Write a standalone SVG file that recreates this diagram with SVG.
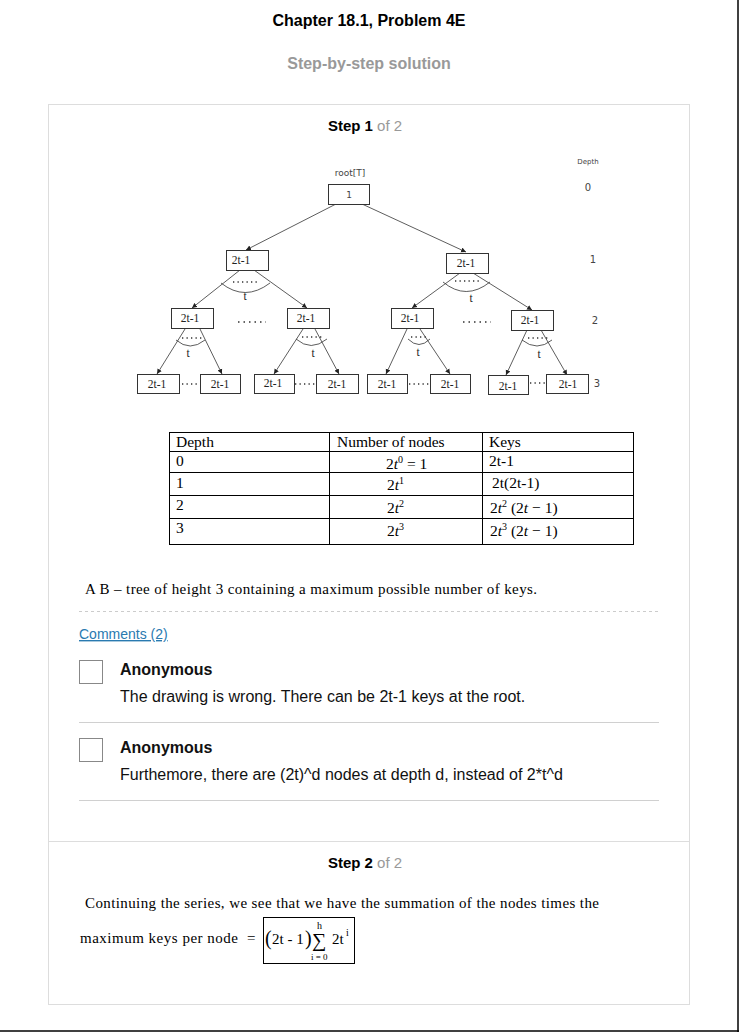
<svg xmlns="http://www.w3.org/2000/svg" width="739" height="1032" viewBox="0 0 739 1032">
<defs>
<marker id="ah" markerWidth="6" markerHeight="6" refX="5" refY="3" orient="auto" markerUnits="userSpaceOnUse">
<path d="M0,0.5 L5,3 L0,5.5 z" fill="#222"/>
</marker>
<style>
.sans{font-family:"Liberation Sans",Arial,sans-serif}
.box{fill:#fff;stroke:#333;stroke-width:1}
.lbl{font-family:"Liberation Serif","Times New Roman",serif;font-size:11.5px;fill:#222;text-anchor:middle}
.dep{font-family:"DejaVu Sans","Liberation Sans",sans-serif;fill:#444;text-anchor:middle}
.edge{stroke:#333;stroke-width:0.8;fill:none;marker-end:url(#ah)}
.arc{stroke:#333;stroke-width:0.8;fill:none}
.dots{stroke:#333;stroke-width:1.3;stroke-dasharray:1.3 3.2;fill:none}
.cell{fill:none;stroke:#000;stroke-width:1}
.tt{font-family:"Liberation Serif","Times New Roman",serif;fill:#000}
.body{font-family:"Liberation Sans",Arial,sans-serif;fill:#111}
.div{stroke:#d0d0d0;stroke-width:1}
</style>
</defs>
<rect x="0" y="0" width="739" height="1032" fill="#fff"/>
<line x1="738" y1="0" x2="738" y2="1032" stroke="#000" stroke-width="1.5"/>
<line x1="0" y1="1031" x2="739" y2="1031" stroke="#000" stroke-width="1.5"/>

<g id="header">
<text x="369" y="26" class="sans" font-size="16" font-weight="bold" text-anchor="middle" fill="#000">Chapter 18.1, Problem 4E</text>
<text x="369" y="69" class="sans" font-size="16" font-weight="bold" text-anchor="middle" fill="#999">Step-by-step solution</text>
</g>

<g id="card">
<rect x="48.5" y="104.5" width="641" height="900" fill="none" stroke="#ddd"/>
<line x1="48.5" y1="841.5" x2="689.5" y2="841.5" stroke="#ddd"/>
<text x="365" y="131" class="sans" font-size="15" text-anchor="middle"><tspan font-weight="bold" fill="#000">Step 1</tspan><tspan fill="#999"> of 2</tspan></text>
<text x="365" y="868" class="sans" font-size="15" text-anchor="middle"><tspan font-weight="bold" fill="#000">Step 2</tspan><tspan fill="#999"> of 2</tspan></text>
</g>

<g id="depth-labels">
<text x="588" y="164" class="dep" style="font-size:7px">Depth</text>
<text x="588" y="191" class="dep" style="font-size:10px">0</text>
<text x="593" y="263" class="dep" style="font-size:10px">1</text>
<text x="595" y="324" class="dep" style="font-size:10px">2</text>
<text x="597" y="387" class="dep" style="font-size:10px">3</text>
</g>

<g id="connectors">
<line class="edge" x1="336" y1="204" x2="246" y2="250"/>
<line class="edge" x1="362" y1="204" x2="466" y2="252"/>
<line class="edge" x1="240" y1="270" x2="192" y2="308"/>
<line class="edge" x1="254" y1="270" x2="307" y2="308"/>
<line class="edge" x1="460" y1="273" x2="412" y2="308"/>
<line class="edge" x1="473" y1="273" x2="532" y2="310"/>
<line class="edge" x1="185" y1="329" x2="157" y2="374"/>
<line class="edge" x1="200" y1="329" x2="222" y2="374"/>
<line class="edge" x1="303" y1="329" x2="274" y2="374"/>
<line class="edge" x1="315" y1="329" x2="339" y2="374"/>
<line class="edge" x1="407" y1="329" x2="386" y2="374"/>
<line class="edge" x1="420" y1="329" x2="450" y2="374"/>
<line class="edge" x1="527" y1="330" x2="506" y2="375"/>
<line class="edge" x1="541" y1="330" x2="567" y2="375"/>
<path class="arc" d="M221,283 Q245,302 270,283"/>
<path class="arc" d="M443,282 Q466,301 490,282"/>
<path class="arc" d="M176,340 Q190,352 205,340"/>
<path class="arc" d="M296,339 Q311,352 327,339"/>
<path class="arc" d="M408,339 Q419,350 430,339"/>
<path class="arc" d="M522,340 Q537,352 552,340"/>
<line class="dots" x1="233" y1="282" x2="259" y2="282"/>
<line class="dots" x1="455" y1="281" x2="481" y2="281"/>
<line class="dots" x1="182" y1="338" x2="202" y2="338"/>
<line class="dots" x1="302" y1="337" x2="322" y2="337"/>
<line class="dots" x1="411" y1="337" x2="428" y2="337"/>
<line class="dots" x1="528" y1="338" x2="548" y2="338"/>
<line class="dots" x1="238" y1="322" x2="266" y2="322" style="stroke-dasharray:1.5 4"/>
<line class="dots" x1="463" y1="322" x2="491" y2="322" style="stroke-dasharray:1.5 4"/>
<line class="dots" x1="182" y1="384" x2="200" y2="384"/>
<line class="dots" x1="295" y1="384" x2="316" y2="384"/>
<line class="dots" x1="409" y1="384" x2="430" y2="384"/>
<line class="dots" x1="530" y1="383" x2="546" y2="383"/>
<text class="lbl" x="245" y="300">t</text>
<text class="lbl" x="471" y="302">t</text>
<text class="lbl" x="188" y="357">t</text>
<text class="lbl" x="313" y="357">t</text>
<text class="lbl" x="418" y="356">t</text>
<text class="lbl" x="539" y="358">t</text>
</g>

<g id="root">
<text x="350" y="176" class="dep" style="font-size:9px">root[T]</text>
<rect class="box" x="328.5" y="184.5" width="41" height="20"/>
<text class="dep" x="349" y="198" style="font-size:9px">1</text>
</g>
<g id="n1a"><rect class="box" x="226.5" y="250.5" width="42" height="20"/><text class="lbl" x="241" y="264">2t-1</text></g>
<g id="n1b"><rect class="box" x="446.5" y="253.5" width="42" height="20"/><text class="lbl" x="466" y="267">2t-1</text></g>
<g id="n2a"><rect class="box" x="171.5" y="308.5" width="42" height="20"/><text class="lbl" x="190" y="322">2t-1</text></g>
<g id="n2b"><rect class="box" x="287.5" y="308.5" width="42" height="20"/><text class="lbl" x="306" y="322">2t-1</text></g>
<g id="n2c"><rect class="box" x="391.5" y="308.5" width="42" height="20"/><text class="lbl" x="410" y="322">2t-1</text></g>
<g id="n2d"><rect class="box" x="511.5" y="310.5" width="42" height="20"/><text class="lbl" x="530" y="324">2t-1</text></g>
<g id="n3a"><rect class="box" x="137.5" y="374.5" width="42" height="19"/><text class="lbl" x="157" y="388">2t-1</text></g>
<g id="n3b"><rect class="box" x="200.5" y="374.5" width="40" height="19"/><text class="lbl" x="220" y="388">2t-1</text></g>
<g id="n3c"><rect class="box" x="254.5" y="374.5" width="40" height="19"/><text class="lbl" x="273" y="387">2t-1</text></g>
<g id="n3d"><rect class="box" x="316.5" y="374.5" width="42" height="19"/><text class="lbl" x="337" y="388">2t-1</text></g>
<g id="n3e"><rect class="box" x="367.5" y="374.5" width="40" height="19"/><text class="lbl" x="387" y="388">2t-1</text></g>
<g id="n3f"><rect class="box" x="430.5" y="374.5" width="40" height="19"/><text class="lbl" x="450" y="388">2t-1</text></g>
<g id="n3g"><rect class="box" x="488.5" y="375.5" width="40" height="19"/><text class="lbl" x="508" y="390">2t-1</text></g>
<g id="n3h"><rect class="box" x="546.5" y="374.5" width="42" height="19"/><text class="lbl" x="568" y="388">2t-1</text></g>

<g id="table" font-size="15.5">
<rect class="cell" x="169.5" y="432.5" width="464" height="112"/>
<line class="cell" x1="329.5" y1="432" x2="329.5" y2="544"/>
<line class="cell" x1="482.5" y1="432" x2="482.5" y2="544"/>
<line class="cell" x1="169" y1="451.5" x2="633" y2="451.5"/>
<line class="cell" x1="169" y1="472.5" x2="633" y2="472.5"/>
<line class="cell" x1="169" y1="495.5" x2="633" y2="495.5"/>
<line class="cell" x1="169" y1="518.5" x2="633" y2="518.5"/>
<text class="tt" x="176" y="447">Depth</text>
<text class="tt" x="337" y="447">Number of nodes</text>
<text class="tt" x="489" y="447">Keys</text>
<text class="tt" x="176" y="466">0</text>
<text class="tt" x="176" y="488">1</text>
<text class="tt" x="176" y="510">2</text>
<text class="tt" x="176" y="533">3</text>
<text class="tt" x="386" y="469">2<tspan font-style="italic">t</tspan><tspan font-size="10" dy="-6">0</tspan><tspan dy="6"> = 1</tspan></text>
<text class="tt" x="387" y="490">2<tspan font-style="italic">t</tspan><tspan font-size="10" dy="-6">1</tspan></text>
<text class="tt" x="387" y="513">2<tspan font-style="italic">t</tspan><tspan font-size="10" dy="-6">2</tspan></text>
<text class="tt" x="387" y="536">2<tspan font-style="italic">t</tspan><tspan font-size="10" dy="-6">3</tspan></text>
<text class="tt" x="489" y="466">2t-1</text>
<text class="tt" x="492" y="488">2t(2t-1)</text>
<text class="tt" x="490" y="513">2<tspan font-style="italic">t</tspan><tspan font-size="10" dy="-6">2</tspan><tspan dy="6"> (2</tspan><tspan font-style="italic">t</tspan><tspan> − 1)</tspan></text>
<text class="tt" x="490" y="536">2<tspan font-style="italic">t</tspan><tspan font-size="10" dy="-6">3</tspan><tspan dy="6"> (2</tspan><tspan font-style="italic">t</tspan><tspan> − 1)</tspan></text>
</g>

<g id="caption">
<text class="tt" x="85" y="594" font-size="15" textLength="452" lengthAdjust="spacing">A B – tree of height 3 containing a maximum possible number of keys.</text>
<line x1="79" y1="611.5" x2="659" y2="611.5" stroke="#ccc" stroke-dasharray="3 3"/>
</g>

<g id="comments">
<text x="79" y="639" class="sans" font-size="14" fill="#2a7ab0" text-decoration="underline">Comments (2)</text>
<rect x="79.5" y="660.5" width="23" height="23" fill="#fff" stroke="#888"/>
<text x="120" y="675" class="sans" font-size="16" font-weight="bold" fill="#111">Anonymous</text>
<text x="120" y="702" class="body" font-size="16">The drawing is wrong. There can be 2t-1 keys at the root.</text>
<line class="div" x1="79" y1="722.5" x2="659" y2="722.5"/>
<rect x="79.5" y="738.5" width="23" height="23" fill="#fff" stroke="#888"/>
<text x="120" y="753" class="sans" font-size="16" font-weight="bold" fill="#111">Anonymous</text>
<text x="120" y="780" class="body" font-size="16">Furthemore, there are (2t)^d nodes at depth d, instead of 2*t^d</text>
<line class="div" x1="79" y1="800.5" x2="659" y2="800.5"/>
</g>

<g id="step2">
<text class="tt" x="85" y="908" font-size="15" textLength="514" lengthAdjust="spacing">Continuing the series, we see that we have the summation of the nodes times the</text>
<text class="tt" x="80" y="943" font-size="15" textLength="158" lengthAdjust="spacing">maximum keys per node</text>
<text class="tt" x="247" y="943" font-size="15">=</text>
<rect x="263.5" y="917.5" width="91" height="46" fill="none" stroke="#000"/>
<text class="tt" x="265" y="945" style="font-size:20px" transform="translate(265 945) scale(1 1.1) translate(-265 -945)">(</text>
<text class="tt" x="272" y="944" style="font-size:15px">2t - 1</text>
<text class="tt" x="305" y="945" style="font-size:20px" transform="translate(305 945) scale(1 1.1) translate(-305 -945)">)</text>
<text class="tt" x="312" y="947" style="font-size:20px">∑</text>
<text class="tt" x="317" y="929" style="font-size:10px">h</text>
<text class="tt" x="311" y="960" style="font-size:9px">i = 0</text>
<text class="tt" x="332" y="944" style="font-size:15px">2t</text>
<text class="tt" x="346" y="936" style="font-size:10px">i</text>
</g>
</svg>
